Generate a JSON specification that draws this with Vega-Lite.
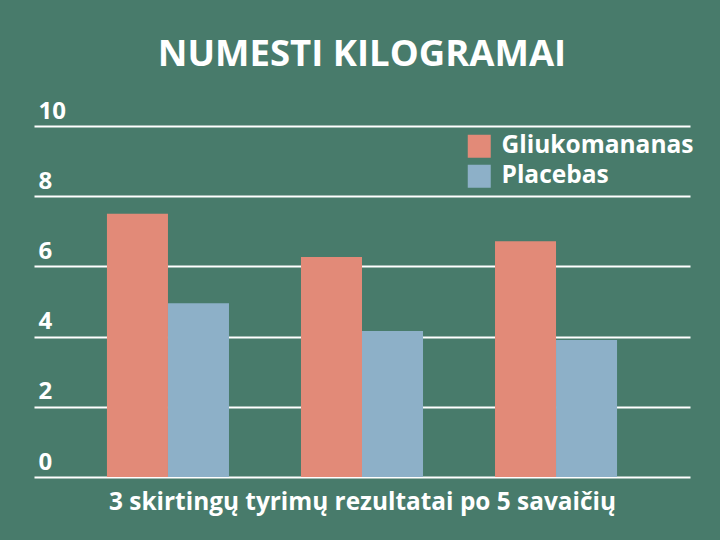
{
  "$schema": "https://vega.github.io/schema/vega-lite/v6.json",
  "width": 656,
  "height": 351,
  "autosize": {"type": "none"},
  "padding": {"left": 34, "top": 126, "right": 30, "bottom": 63},
  "background": "#487b6b",
  "config": {
    "view": {"stroke": null},
    "font": "Open Sans",
    "axis": {"labelFont": "Open Sans", "titleFont": "Open Sans"}
  },
  "title": {
    "text": "NUMESTI KILOGRAMAI",
    "font": "Open Sans",
    "fontSize": 36.5,
    "fontWeight": "bold",
    "color": "#ffffff",
    "anchor": "middle",
    "offset": 26
  },
  "data": {
    "values": [
      {"tyrimas": "1", "grupe": "Gliukomananas", "kg": 7.5},
      {"tyrimas": "1", "grupe": "Placebas", "kg": 4.95},
      {"tyrimas": "2", "grupe": "Gliukomananas", "kg": 6.27},
      {"tyrimas": "2", "grupe": "Placebas", "kg": 4.16},
      {"tyrimas": "3", "grupe": "Gliukomananas", "kg": 6.72},
      {"tyrimas": "3", "grupe": "Placebas", "kg": 3.9}
    ]
  },
  "mark": {"type": "bar"},
  "encoding": {
    "x": {
      "field": "tyrimas",
      "type": "nominal",
      "scale": {"paddingInner": 0.371, "paddingOuter": 0.376},
      "axis": {
        "title": "3 skirtingų tyrimų rezultatai po 5 savaičių",
        "labels": false,
        "ticks": false,
        "domain": false,
        "titleFontSize": 24.4,
        "titleFontWeight": "bold",
        "titleColor": "#ffffff",
        "titlePadding": 13
      }
    },
    "xOffset": {"field": "grupe", "type": "nominal", "scale": {"paddingInner": 0}},
    "y": {
      "field": "kg",
      "type": "quantitative",
      "scale": {"domain": [0, 10]},
      "axis": {
        "title": null,
        "values": [0, 2, 4, 6, 8, 10],
        "ticks": false,
        "domain": false,
        "grid": true,
        "gridColor": "#ffffff",
        "gridWidth": 2,
        "gridOpacity": 1,
        "labelAlign": "left",
        "labelBaseline": "bottom",
        "labelPadding": -4,
        "labelOffset": -3,
        "labelFontSize": 24,
        "labelFontWeight": "bold",
        "labelColor": "#ffffff"
      }
    },
    "color": {
      "field": "grupe",
      "type": "nominal",
      "scale": {"domain": ["Gliukomananas", "Placebas"], "range": ["#e28a78", "#8db0c8"]},
      "legend": {
        "title": null,
        "orient": "none",
        "legendX": 433,
        "legendY": 8,
        "symbolType": "square",
        "symbolSize": 529,
        "symbolStrokeWidth": 0,
        "symbolOpacity": 1,
        "labelFontSize": 24.5,
        "labelFontWeight": "bold",
        "labelColor": "#ffffff",
        "labelOffset": 10,
        "labelLimit": 400,
        "rowPadding": 5
      }
    }
  }
}
